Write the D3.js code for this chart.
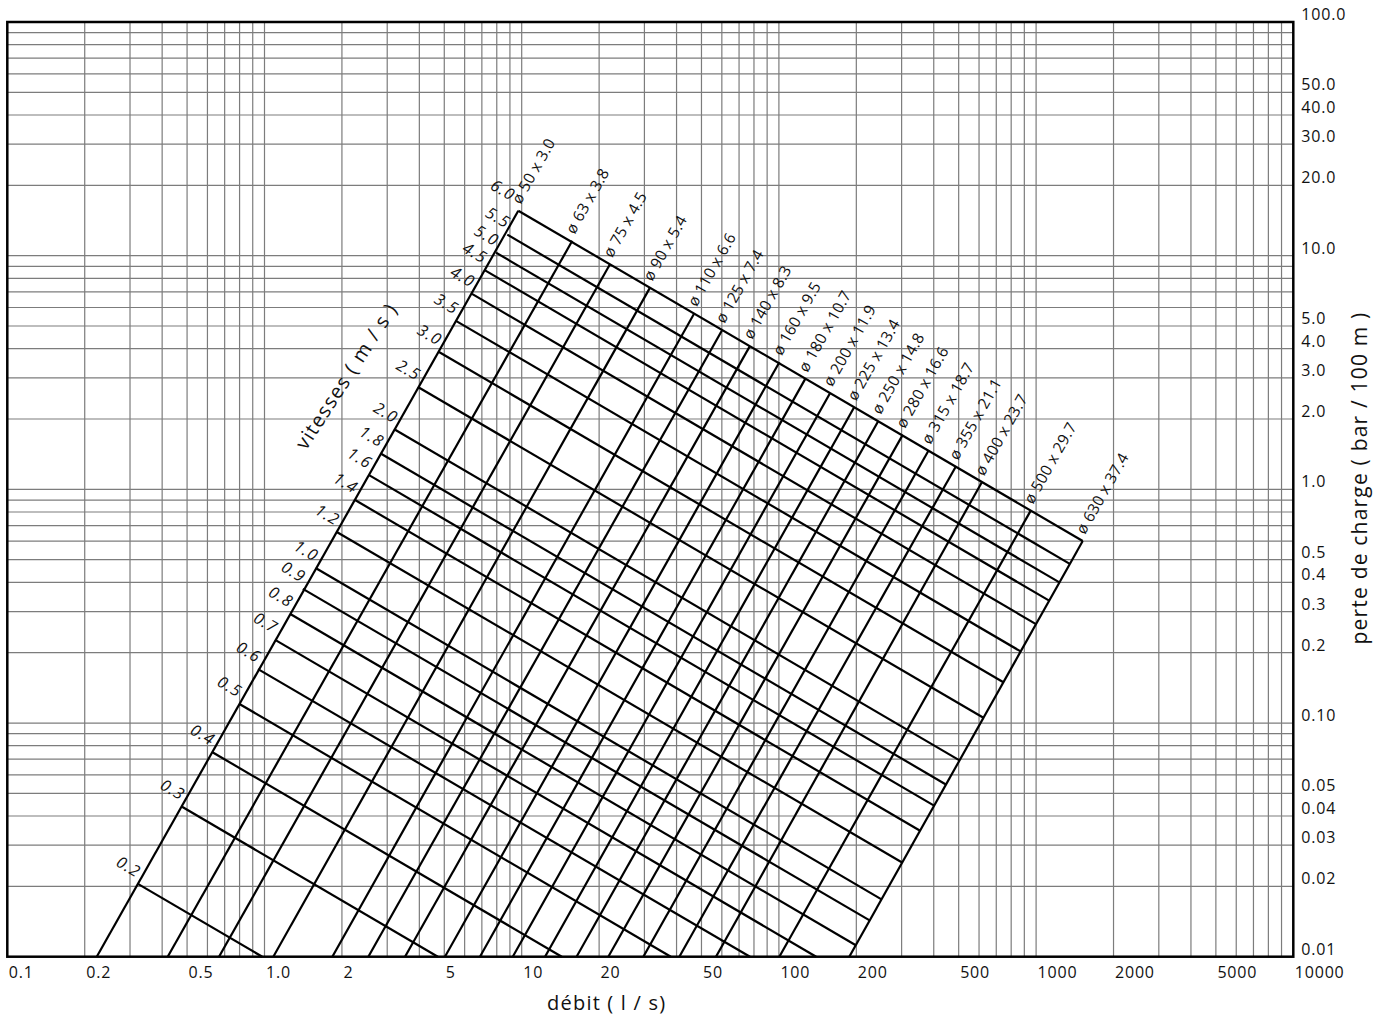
<!DOCTYPE html>
<html><head><meta charset="utf-8">
<script src="https://cdn.jsdelivr.net/npm/d3@7"></script>
<style>
html,body{margin:0;padding:0;background:#fff;}
svg{display:block;font-family:"Open Sans",sans-serif;}
</style></head><body>
<svg id="chart" width="1388" height="1019"></svg>
<script>
// ---- axis ticks ----
const xTickValues = [0.1,0.2,0.5,1,2,5,10,20,50,100,200,500,1000,2000,5000,10000];
const xTickLabels = ["0.1","0.2","0.5","1.0","2","5","10","20","50","100","200","500","1000","2000","5000","10000"];
const yTickValues = [100,50,40,30,20,10,5,4,3,2,1,0.5,0.4,0.3,0.2,0.1,0.05,0.04,0.03,0.02,0.01];
const yTickLabels = ["100.0","50.0","40.0","30.0","20.0","10.0","5.0","4.0","3.0","2.0","1.0","0.5","0.4","0.3","0.2","0.10","0.05","0.04","0.03","0.02","0.01"];

// ---- pipe diameters (lines of constant diameter) ----
const diameterLabels = ["ø 50 x 3.0","ø 63 x 3.8","ø 75 x 4.5","ø 90 x 5.4","ø 110 x 6.6","ø 125 x 7.4","ø 140 x 8.3","ø 160 x 9.5","ø 180 x 10.7","ø 200 x 11.9","ø 225 x 13.4","ø 250 x 14.8","ø 280 x 16.6","ø 315 x 18.7","ø 355 x 21.1","ø 400 x 23.7","ø 500 x 29.7","ø 630 x 37.4"];
const diameterTopQ = [9.70,15.73,22.04,31.54,46.9,60.2,77.2,100.4,126.6,158.0,195.9,243.5,302.9,380.9,486.9,614.5,952.8,1518];
const diameterTopJ = [15.58,11.59,9.19,7.30,5.67,4.81,4.11,3.50,2.97,2.58,2.24,1.96,1.71,1.46,1.25,1.07,0.811,0.601];
const diameterBottomQ = [0.2227,0.4204,0.6654,1.082,1.835,2.533,3.518,5.03,6.88,9.23,12.32,16.34,21.71,29.71,41.01,56.93,100.4,187.8];
const diameterBottomJ = [0.01,0.01,0.01,0.01,0.01,0.01,0.01,0.01,0.01,0.01,0.01,0.01,0.01,0.01,0.01,0.01,0.01,0.01];

// ---- velocities (lines of constant velocity) ----
const velocityLabels = ["6.0","5.5","5.0","4.5","4.0","3.5","3.0","2.5","2.0","1.8","1.6","1.4","1.2","1.0","0.9","0.8","0.7","0.6","0.5","0.4","0.3","0.2"];
const velocityStartQ = [9.70,8.79,7.95,7.15,6.41,5.55,4.77,3.95,3.22,2.84,2.55,2.25,1.91,1.58,1.41,1.26,1.10,0.944,0.796,0.625,0.478,0.322];
const velocityStartJ = [15.58,12.30,10.30,8.69,6.86,5.26,3.87,2.74,1.80,1.42,1.15,0.90,0.657,0.461,0.375,0.293,0.227,0.170,0.121,0.0752,0.0438,0.0205];
const velocityEndQ = [1518,1352,1232,1124,999,871,746,624,503.8,445.9,401.2,354.0,301.3,250.6,225.3,199.1,139.6,77.2,38.0,14.32,4.72,0.980];
const velocityEndJ = [0.601,0.480,0.400,0.334,0.265,0.2025,0.1495,0.1053,0.0692,0.0546,0.0443,0.0346,0.0253,0.0176,0.0143,0.0112,0.01,0.01,0.01,0.01,0.01,0.01];

const svg = d3.select("#chart");
const L = 7.3, R = 1293.3, T = 22, B = 956.7;
const x = d3.scaleLog().domain([0.1, 10000]).range([L, R]);
const y = d3.scaleLog().domain([0.01, 100]).range([B, T]);

// grid
const xGrid = [], yGrid = [];
for (let e = -1; e < 4; e++) for (let k = 1; k <= 9; k++) xGrid.push(k * Math.pow(10, e));
for (let e = -2; e < 2; e++) for (let k = 1; k <= 9; k++) yGrid.push(k * Math.pow(10, e));
const grid = svg.append("g").attr("stroke", "#7c7c7c").attr("stroke-width", 1.2);
grid.selectAll("line.v").data(xGrid).join("line").attr("class","v")
  .attr("x1", d => x(d)).attr("x2", d => x(d)).attr("y1", T).attr("y2", B);
grid.selectAll("line.h").data(yGrid).join("line").attr("class","h")
  .attr("y1", d => y(d)).attr("y2", d => y(d)).attr("x1", L).attr("x2", R);

// nomogram lines
const line = d3.line().x(d => x(d[0])).y(d => y(d[1]));
const nomo = svg.append("g").attr("fill", "none").attr("stroke", "#000").attr("stroke-width", 2.2).attr("stroke-linecap","butt");
nomo.selectAll("path.d").data(diameterLabels.map((l, i) => [[diameterBottomQ[i], diameterBottomJ[i]], [diameterTopQ[i], diameterTopJ[i]]]))
  .join("path").attr("class","d").attr("d", line);
nomo.selectAll("path.v").data(velocityLabels.map((l, i) => [[velocityStartQ[i], velocityStartJ[i]], [velocityEndQ[i], velocityEndJ[i]]]))
  .join("path").attr("class","v").attr("d", line);

// frame
svg.append("rect").attr("x", L).attr("y", T).attr("width", R - L).attr("height", B - T)
  .attr("fill", "none").attr("stroke", "#000").attr("stroke-width", 2.5);

// axes
const xAxis = d3.axisBottom(x).tickValues(xTickValues).tickFormat((d, i) => xTickLabels[i]).tickSize(0);
const gx = svg.append("g").attr("transform", `translate(0,${B})`).call(xAxis);
gx.select(".domain").remove();
gx.selectAll("text").attr("y", 21).attr("dy", null).attr("x", 1).attr("text-anchor", "start")
  .attr("font-size", 16).attr("letter-spacing", 0.8).attr("fill", "#111").attr("font-family", "Open Sans");

const yAxis = d3.axisRight(y).tickValues(yTickValues).tickFormat((d, i) => yTickLabels[i]).tickSize(0);
const gy = svg.append("g").attr("transform", `translate(${R},0)`).call(yAxis);
gy.select(".domain").remove();
gy.selectAll("text").attr("x", 8).attr("dy", null).attr("y", -2.5).attr("text-anchor", "start")
  .attr("font-size", 16).attr("letter-spacing", 0.8).attr("fill", "#111").attr("font-family", "Open Sans");

// diameter labels
svg.append("g").selectAll("text").data(diameterLabels).join("text")
  .attr("transform", (d, i) => `translate(${x(diameterTopQ[i])},${y(diameterTopJ[i])}) rotate(-60.5)`)
  .attr("x", 6).attr("y", -1).attr("font-size", 15.5).attr("letter-spacing", 0.3).attr("fill", "#111").text(d => d);

// velocity labels (the top one is pushed back so it clears the first diameter label)
svg.append("g").selectAll("text").data(velocityLabels).join("text")
  .attr("transform", (d, i) => `translate(${x(velocityStartQ[i])},${y(velocityStartJ[i])}) rotate(30.3)`)
  .attr("x", (d, i) => i === 0 ? -11 : -4).attr("y", -4.5).attr("text-anchor", "end").attr("font-style", "italic")
  .attr("font-size", 16).attr("letter-spacing", 1.2).attr("fill", "#111").text(d => d);

// titles
svg.append("text").attr("x", 606.7).attr("y", 1010).attr("text-anchor", "middle")
  .attr("font-size", 20).attr("letter-spacing", 1.2).attr("fill", "#111").text("débit ( l / s)");
svg.append("text").attr("transform", "translate(1366.5,478) rotate(-90)").attr("text-anchor", "middle")
  .attr("font-size", 21).attr("letter-spacing", 1.2).attr("fill", "#111").text("perte de charge ( bar / 100 m )");
svg.append("text").attr("transform", "translate(306,451) rotate(-57)").attr("text-anchor", "start")
  .attr("font-size", 20).attr("letter-spacing", 1.3).attr("fill", "#111").text("vitesses ( m / s )");
</script>
</body></html>
